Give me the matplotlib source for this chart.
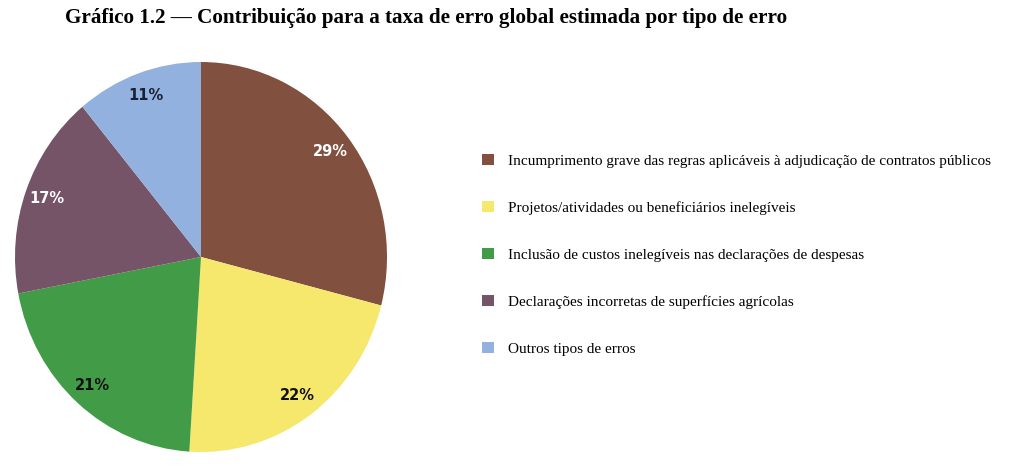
import matplotlib

matplotlib.use("Agg")

import matplotlib.pyplot as plt

# values
categories = [
    "Incumprimento grave das regras aplicáveis à adjudicação de contratos públicos",
    "Projetos/atividades ou beneficiários inelegíveis",
    "Inclusão de custos inelegíveis nas declarações de despesas",
    "Declarações incorretas de superfícies agrícolas",
    "Outros tipos de erros",
]
shares = [29, 22, 21, 17, 11]
colors = ["#81503F", "#F5E86C", "#419B47", "#765468", "#92B1DF"]
label_colors = ["white", "#111111", "#111111", "white", "#1a1f33"]

W, H = 1024, 475
fig = plt.figure(figsize=(W / 100, H / 100), dpi=100)
fig.patch.set_facecolor("white")

# pie is slightly wider-than-tall squashed in the source, so use an auto-aspect axes
ax = fig.add_axes([15 / W, (H - 452) / H, 372 / W, 390 / H])
wedges, texts, autotexts = ax.pie(
    shares,
    colors=colors,
    startangle=90,
    counterclock=False,
    autopct="%d%%",
    pctdistance=0.88,
    radius=1.0,
    wedgeprops={"linewidth": 0},
    textprops={"fontsize": 10.5, "fontweight": "bold", "family": "DejaVu Sans"},
)
for t, c in zip(autotexts, label_colors):
    t.set_color(c)
ax.set_aspect("auto")
ax.set_xlim(-1, 1)
ax.set_ylim(-1, 1)

fig.text(
    65 / W,
    1 - 18 / H,
    "Gráfico 1.2 — Contribuição para a taxa de erro global estimada por tipo de erro",
    ha="left",
    va="center",
    fontsize=15.2,
    fontweight="bold",
    family="Liberation Serif",
)

fig.legend(
    wedges,
    categories,
    loc="upper left",
    bbox_to_anchor=(468 / W, 1 - 140 / H),
    frameon=False,
    handlelength=0.8,
    handleheight=0.8,
    handletextpad=0.9,
    labelspacing=2.15,
    prop={"family": "Liberation Serif", "size": 11},
)

fig.savefig("out.png", dpi=100)
